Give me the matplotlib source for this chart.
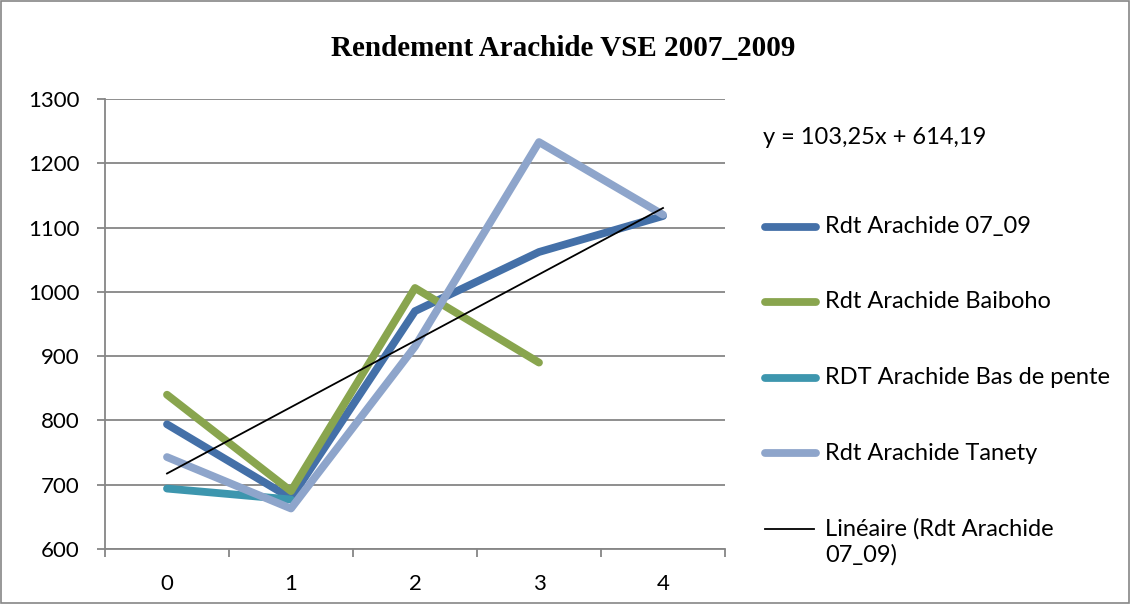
import matplotlib
matplotlib.use("Agg")
import matplotlib.pyplot as plt
from matplotlib.lines import Line2D
from matplotlib.patches import Rectangle
import numpy as np

categories = [0, 1, 2, 3, 4]
rdt_07_09 = [794, 679, 970, 1062, 1118]
rdt_baiboho = [840, 690, 1006, 890]
rdt_bas_pente = [694, 677]
rdt_tanety = [743, 663, 915, 1233, 1120]
trend_slope = 103.25
trend_intercept = 614.19
y_ticks = [600, 700, 800, 900, 1000, 1100, 1200, 1300]

title = "Rendement Arachide VSE 2007_2009"
labels = ["Rdt Arachide 07_09", "Rdt Arachide Baiboho",
          "RDT Arachide Bas de pente", "Rdt Arachide Tanety",
          "Linéaire (Rdt Arachide\n07_09)"]
colors = ["#4470A8", "#89A54E", "#3D96AE", "#8EA5CB"]

plt.rcParams['font.family'] = ['Lato', 'DejaVu Sans']

fig = plt.figure(figsize=(11.31, 6.04), dpi=100)
ax = fig.add_axes([105/1131, 1-549/604, (725-105)/1131, (549-99)/604])

series = [rdt_07_09, rdt_baiboho, rdt_bas_pente, rdt_tanety]
for vals, c in zip(series, colors):
    ax.plot(categories[:len(vals)], vals, color=c, lw=5.6,
            solid_capstyle='round', solid_joinstyle='round', zorder=3)

xs = np.array(categories, dtype=float)
ax.plot(xs, trend_slope * (xs + 1) + trend_intercept, color='black', lw=1.3, zorder=4)

ax.set_xlim(-0.5, 4.5)
ax.set_ylim(600, 1300)
ax.set_yticks(y_ticks)
ax.set_yticklabels([str(v) for v in y_ticks])
ax.set_xticks(categories)
ax.set_xticklabels([str(c) for c in categories])
ax.set_xticks(np.arange(-0.5, 4.51, 1), minor=True)
ax.tick_params(axis='x', which='major', length=0, pad=18, labelsize=16)
ax.tick_params(axis='x', which='minor', length=6, width=1.3, color='#868686', direction='out')
ax.tick_params(axis='y', length=6, width=1.3, color='#868686', direction='out', pad=12, labelsize=16)
ax.grid(axis='y', color='#868686', lw=1.3)
ax.set_axisbelow(True)
for s in ['top', 'right']:
    ax.spines[s].set_visible(False)
for s in ['left', 'bottom']:
    ax.spines[s].set_color('#868686')
    ax.spines[s].set_linewidth(1.3)

fig.text(563/1131, 1-48/604, title, ha='center', va='center',
         fontsize=21, fontweight='bold', family=['Liberation Serif', 'DejaVu Serif'])

fig.text(763/1131, 1-137/604, "y = 103,25x + 614,19", ha='left', va='center', fontsize=17)

legend_y = [227, 302, 378, 453, 529]
for i, lab in enumerate(labels):
    yf = 1 - legend_y[i]/604
    if i < 4:
        fig.add_artist(Line2D([765/1131, 816/1131], [yf, yf], color=colors[i], lw=5.6,
                              solid_capstyle='round', transform=fig.transFigure))
    else:
        fig.add_artist(Line2D([765/1131, 814/1131], [yf, yf], color='black', lw=1.3,
                              transform=fig.transFigure))
    for j, part in enumerate(lab.split("\n")):
        fig.text(825/1131, yf - j*26/604, part, ha='left', va='center', fontsize=17)

fig.add_artist(Rectangle((0.0005, 0.001), 0.998, 0.997, transform=fig.transFigure,
                         fill=False, edgecolor='#868686', lw=1.2))

fig.savefig("out.png", dpi=100)
